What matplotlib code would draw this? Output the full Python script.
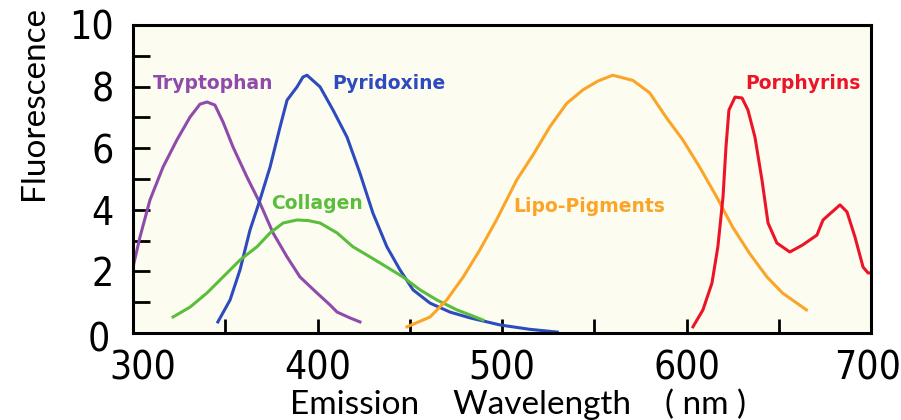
import matplotlib
matplotlib.use("Agg")
import matplotlib.pyplot as plt
import matplotlib.transforms as mtransforms
from matplotlib import font_manager

# emission spectra
trp_x = [300, 303.8, 309.2, 316.3, 323.8, 330.9, 336.3, 340.1, 344.4, 348.8, 354.2, 361.8, 368.8,
         375.9, 383.5, 390.5, 399.7, 406.8, 410.6, 417.6, 423]
trp_y = [2.14, 3.12, 4.32, 5.39, 6.27, 7.01, 7.43, 7.5, 7.4, 6.85, 6.04, 5.06, 4.22,
         3.25, 2.47, 1.82, 1.3, 0.91, 0.68, 0.49, 0.36]

pyr_x = [346, 352.6, 358, 363.4, 368.8, 374.3, 379.7, 383.5, 388.9, 392.1, 394.3, 401.4, 408.4,
         416, 423, 430, 437.6, 444.7, 451.8, 461, 471.8, 482.7, 499, 515, 530]
pyr_y = [0.36, 1.07, 2.05, 3.34, 4.32, 5.39, 6.69, 7.56, 7.99, 8.31, 8.37, 7.99, 7.24,
         6.36, 5.19, 3.9, 2.8, 2.05, 1.4, 0.97, 0.68, 0.49, 0.26, 0.12, 0.03]

col_x = [321.7, 330.9, 340.1, 348.8, 358, 367.2, 374.3, 381.3, 388.9, 395, 401.4, 410.6, 419.2,
         428.5, 437.6, 446.3, 455.6, 464.8, 475.6, 483, 489.7]
col_y = [0.52, 0.84, 1.3, 1.82, 2.37, 2.8, 3.25, 3.57, 3.67, 3.65, 3.57, 3.25, 2.8,
         2.47, 2.14, 1.82, 1.4, 1.07, 0.75, 0.58, 0.42]

lip_x = [448.5, 461, 470, 479, 488, 497, 508, 517, 526, 535, 544, 552, 560, 571, 580, 589, 598,
         607, 616.5, 625, 634, 643.6, 652, 665]
lip_y = [0.2, 0.52, 1.07, 1.82, 2.7, 3.67, 4.97, 5.8, 6.7, 7.45, 7.9, 8.18, 8.37, 8.2, 7.8, 7.0,
         6.27, 5.4, 4.4, 3.44, 2.6, 1.82, 1.3, 0.75]

por_x = [603.5, 608.9, 613.8, 617, 619.8, 621.4, 623, 626.3, 630.1, 633.3, 637.1, 640.9, 644.2,
         649, 656, 663, 670.7, 674, 683.2, 687, 691.3, 695.7, 698.4, 700]
por_y = [0.2, 0.75, 1.62, 2.8, 4.42, 6.04, 7.24, 7.66, 7.63, 7.24, 6.36, 4.97, 3.57,
         2.92, 2.63, 2.86, 3.18, 3.67, 4.16, 3.93, 3.12, 2.14, 1.95, 1.95]

x_ticks = [300, 400, 500, 600, 700]
y_ticks = [0, 2, 4, 6, 8, 10]

# narrow font for the tick numbers, if there is one
narrow = None
for f in font_manager.fontManager.ttflist:
    if "Narrow" in f.name or "Condensed" in f.name or f.stretch in ("condensed", "semi-condensed"):
        narrow = f
        break
if narrow is not None:
    tick_font = dict(family=narrow.name, stretch=narrow.stretch, size=28)
else:
    tick_font = dict(family="Liberation Sans", size=24)

fig = plt.figure(figsize=(9.01, 4.2), dpi=100)
ax = fig.add_axes([133 / 901, 1 - 333 / 420, 738 / 901, 308 / 420])
ax.set_facecolor("#fdfcf0")

lw = 2.2
ax.plot(trp_x, trp_y, color="#8f4bab", lw=lw)
ax.plot(pyr_x, pyr_y, color="#2d4bbe", lw=lw)
ax.plot(col_x, col_y, color="#5abe3c", lw=lw)
ax.plot(lip_x, lip_y, color="#faa528", lw=lw)
ax.plot(por_x, por_y, color="#eb1428", lw=lw)

lab = dict(fontsize=13.5, fontweight="bold", family="DejaVu Sans", va="center", ha="left")
ax.text(311, 8.1, "Tryptophan", color="#8f4bab", **lab)
ax.text(408, 8.1, "Pyridoxine", color="#2d4bbe", **lab)
ax.text(375, 4.2, "Collagen", color="#5abe3c", **lab)
ax.text(506, 4.1, "Lipo-Pigments", color="#faa528", **lab)
ax.text(632, 8.1, "Porphyrins", color="#eb1428", **lab)

ax.set_xlim(300, 700)
ax.set_ylim(0, 10)
ax.set_xticks(range(300, 701, 50))
ax.set_xticklabels([str(v) if v in x_ticks else "" for v in range(300, 701, 50)])
ax.set_yticks(range(0, 11))
ax.set_yticklabels([str(v) if v in y_ticks else "" for v in range(0, 11)])
ax.tick_params(direction="in", length=10, width=2)
ax.tick_params(axis="x", pad=12)
ax.tick_params(axis="y", length=12, pad=14)
for t in ax.get_xticklabels() + ax.get_yticklabels():
    t.set_family(tick_font["family"])
    t.set_size(tick_font["size"])
    if "stretch" in tick_font:
        t.set_stretch(tick_font["stretch"])
for s in ax.spines.values():
    s.set_linewidth(2.2)


def nudge(label, dx, dy):
    # shift one tick label by dx, dy pixels
    label.set_transform(label.get_transform() + mtransforms.ScaledTranslation(dx / 100, dy / 100, fig.dpi_scale_trans))


xl = ax.get_xticklabels()
yl = ax.get_yticklabels()
nudge(xl[0], 10, 0)     # "300" sits right of the corner
nudge(xl[-1], -3, 0)
nudge(yl[0], -4, -4)    # "0" sits low in the corner

fig.text(518 / 901, 1 - 404 / 420, "Emission    Wavelength    ( nm )", ha="center", va="center",
         fontsize=24, family="Lato")
fig.text(34 / 901, 1 - 200 / 420, "Fluorescence", rotation=90, ha="center", va="bottom",
         fontsize=24, family="Lato")

fig.savefig("out.png", dpi=100)
